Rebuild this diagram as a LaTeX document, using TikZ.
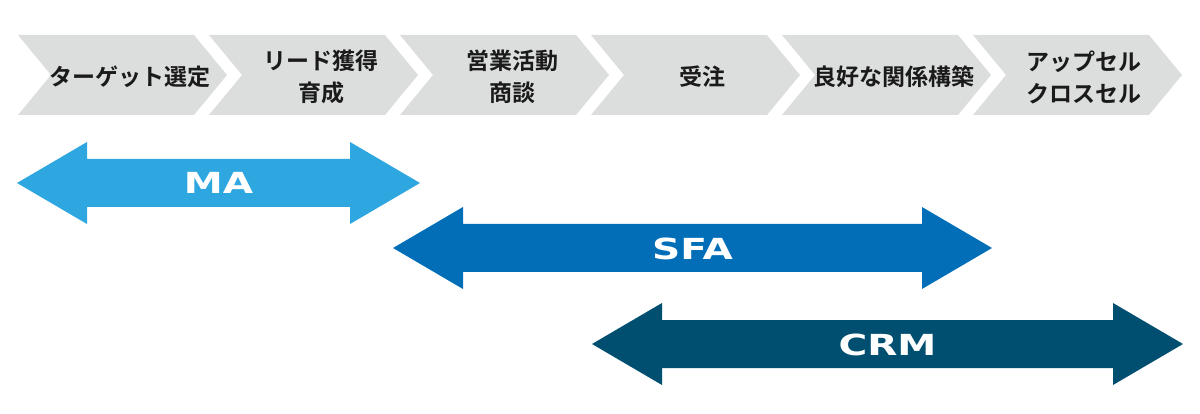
\documentclass[tikz,border=0pt]{standalone}
\usepackage{fontspec}
\usepackage{graphicx}
\newfontfamily\jpfont{Noto Sans CJK JP}[BoldFont={Noto Sans CJK JP Bold}]
\newfontfamily\labfont{DejaVu Sans Bold}
\definecolor{chevgray}{HTML}{DCDDDD}
\definecolor{mablue}{HTML}{2EA7E0}
\definecolor{sfablue}{HTML}{036EB8}
\definecolor{crmblue}{HTML}{004F71}
\definecolor{txtdark}{HTML}{1A1A1A}
\tikzset{
  chevtext/.style={align=center, text=txtdark, inner sep=0pt,
    font=\jpfont\bfseries\fontsize{23}{32}\selectfont},
  arrlabel/.style={text=white, inner sep=0pt,
    font=\labfont\fontsize{29}{32}\selectfont},
}
\newcommand\chevshape[1]{%
  \fill[chevgray] (#1,35) -- ++(176,0) -- ++(33,40) -- ++(-33,40) -- ++(-176,0) -- ++(33,-40) -- cycle;}
\newcommand\dblarrowshape[4]{% color, left tip x, right tip x, center y
  \fill[#1] (#2,#4) -- ++(70,-41) -- ++(0,17) -- (#3-70,#4-24) -- ++(0,-17) -- (#3,#4)
    -- ++(-70,41) -- ++(0,-17) -- (#2+70,#4+24) -- ++(0,17) -- cycle;}
\begin{document}
\begin{tikzpicture}[x=1pt,y=-1pt]
\useasboundingbox (0,0) rectangle (1200,414);
% chevrons
\chevshape{18}
\chevshape{209}
\chevshape{400}
\chevshape{591}
\chevshape{782}
\chevshape{973}
\node[chevtext] (c1) at (130,77) {ターゲット選定};
\node[chevtext] (c2) at (321,77) {リード獲得\\育成};
\node[chevtext] (c3) at (512,77) {営業活動\\商談};
\node[chevtext] (c4) at (702,77) {受注};
\node[chevtext] (c5) at (894,77) {良好な関係構築};
\node[chevtext] (c6) at (1084,77) {アップセル\\クロスセル};
% arrows
\dblarrowshape{mablue}{17}{420}{183}
\dblarrowshape{sfablue}{393}{992}{248}
\dblarrowshape{crmblue}{592}{1183}{344}
\node[arrlabel] (ma) at (218.5,182.5) {\scalebox{1.35}[1]{MA}};
\node[arrlabel] (sfa) at (692.5,248.5) {\scalebox{1.35}[1]{SFA}};
\node[arrlabel] (crm) at (887.5,345) {\scalebox{1.35}[1]{CRM}};
\end{tikzpicture}
\end{document}
